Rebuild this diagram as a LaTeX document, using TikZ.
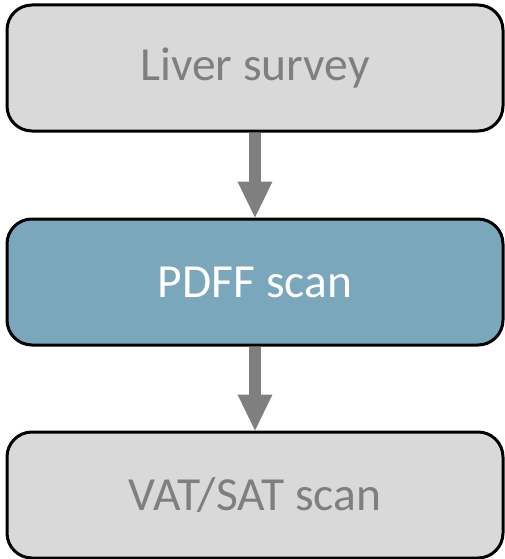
\documentclass[tikz,border=0pt]{standalone}
\usepackage{fontspec}
\setmainfont{Carlito}
\usetikzlibrary{arrows.meta}
\definecolor{boxgray}{HTML}{D9D9D9}
\definecolor{boxblue}{HTML}{7BA7BC}
\definecolor{txtgray}{HTML}{7F7F7F}
\definecolor{arrgray}{HTML}{7F7F7F}
\begin{document}
\begin{tikzpicture}[x=1pt,y=-1pt,
  stepbox/.style={draw=black, line width=3pt, rounded corners=25pt,
    minimum width=496pt, minimum height=126pt, inner sep=0pt,
    font=\fontsize{47.5}{52}\selectfont},
  flowarrow/.style={draw=arrgray, line width=12pt,
    -{Triangle[length=36pt, width=35pt, line width=0pt, color=arrgray, fill=arrgray]}}]
\useasboundingbox (0,0) rectangle (505,559);
\node[stepbox, fill=boxgray, text=txtgray] (a) at (255,68) {Liver survey};
\node[stepbox, fill=boxblue, text=white] (b) at (255,282) {PDFF scan};
\node[stepbox, fill=boxgray, text=txtgray] (c) at (255,495) {VAT/SAT scan};
\draw[flowarrow] (a.south) -- (b.north);
\draw[flowarrow] (b.south) -- (c.north);
\end{tikzpicture}
\end{document}
